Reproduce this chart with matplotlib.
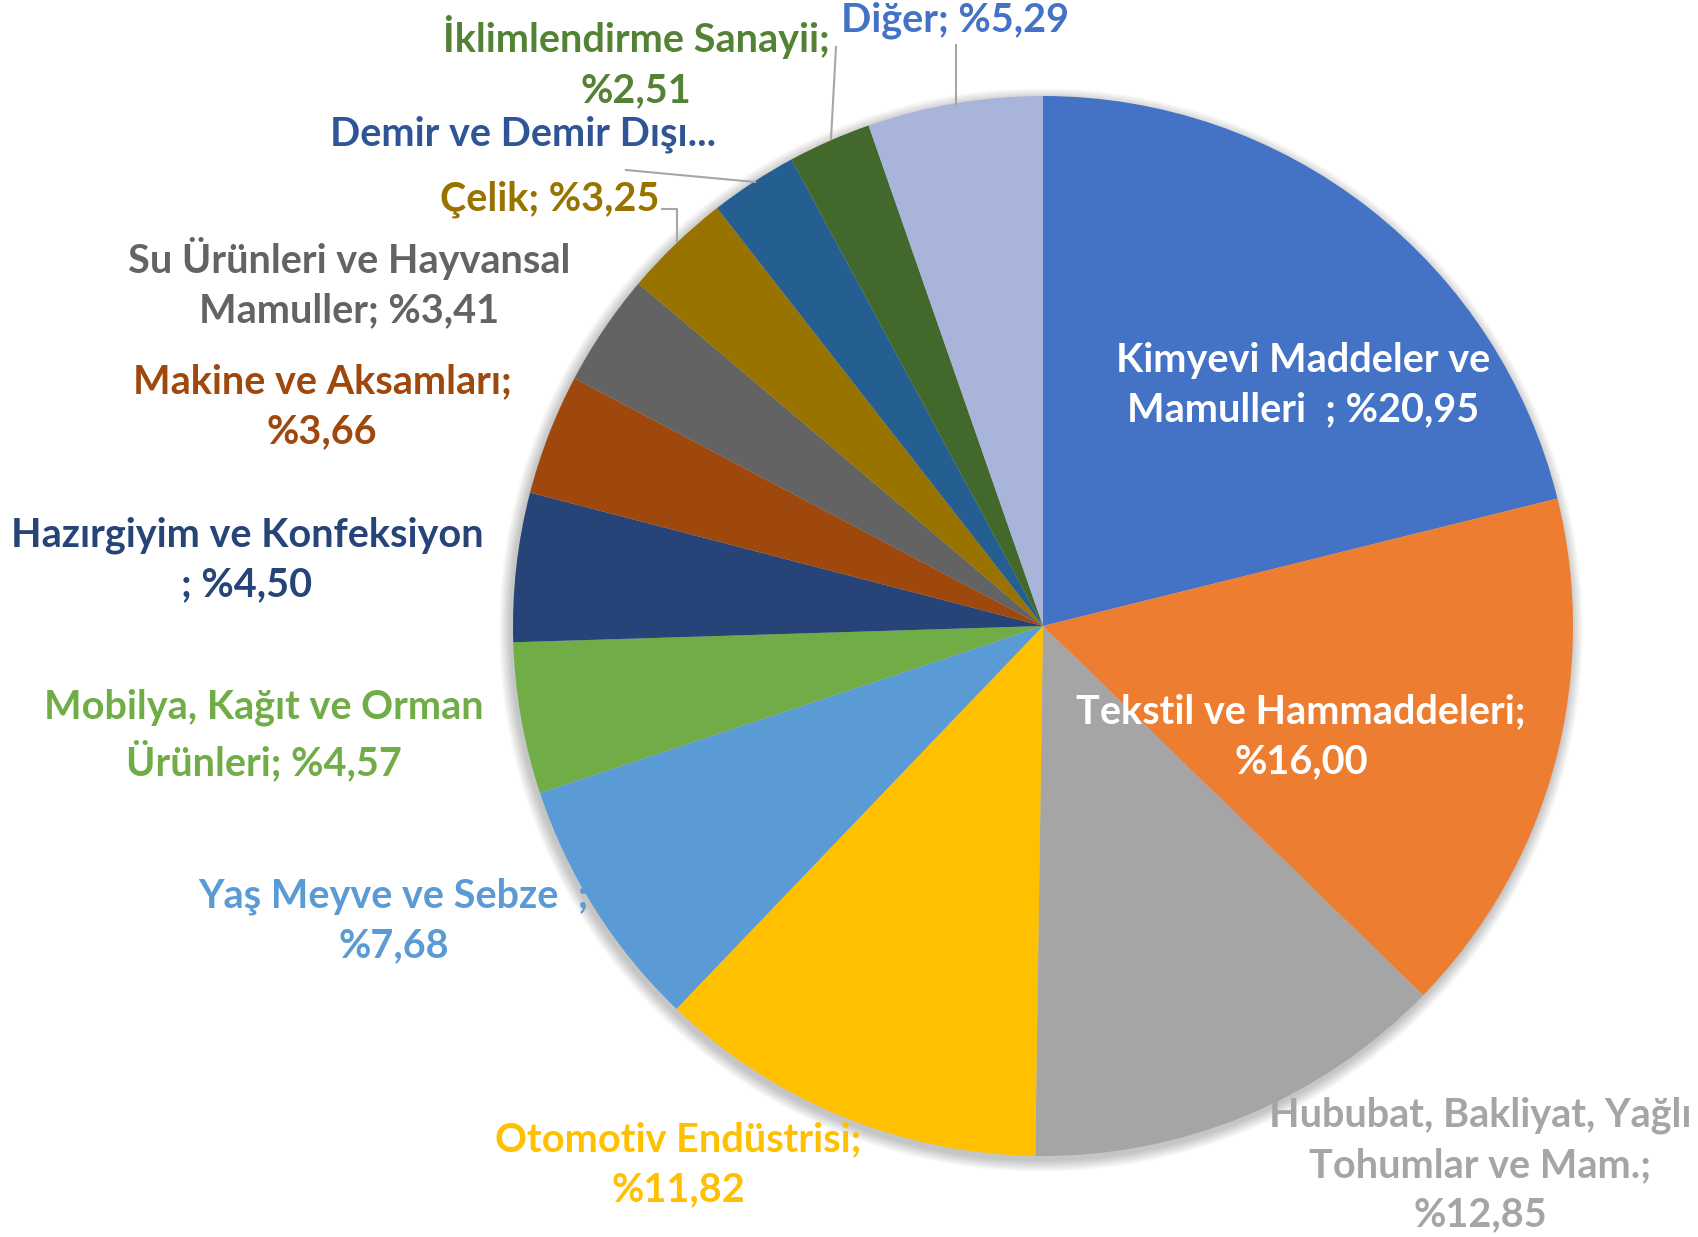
import matplotlib
matplotlib.use("Agg")
import matplotlib.pyplot as plt
from matplotlib.patches import Circle

W, H = 1699, 1237

categories = [
    "Kimyevi Maddeler ve\nMamulleri  ; ",
    "Tekstil ve Hammaddeleri;\n",
    "Hububat, Bakliyat, Yağlı\nTohumlar ve Mam.;\n",
    "Otomotiv Endüstrisi;\n",
    "Yaş Meyve ve Sebze  ;\n",
    "Mobilya, Kağıt ve Orman\nÜrünleri; ",
    "Hazırgiyim ve Konfeksiyon\n; ",
    "Makine ve Aksamları;\n",
    "Su Ürünleri ve Hayvansal\nMamuller; ",
    "Çelik; ",
    "Demir ve Demir Dışı...",
    "İklimlendirme Sanayii;\n",
    "Diğer; ",
]
values = [20.95, 16.00, 12.85, 11.82, 7.68, 4.57, 4.50, 3.66, 3.41, 3.25, 2.65, 2.51, 5.29]
show_value = [True, True, True, True, True, True, True, True, True, True, False, True, True]
slice_colors = ["#4472C4", "#ED7D31", "#A5A5A5", "#FFC000", "#5B9BD5", "#70AD47",
                "#264478", "#9E480E", "#636363", "#997300", "#255E91", "#43682B", "#A9B4DA"]
label_colors = ["#FFFFFF", "#FFFFFF", "#A5A5A5", "#FFC000", "#5B9BD5", "#70AD47",
                "#264478", "#9E480E", "#636363", "#997300", "#2F5597", "#548235", "#4472C4"]
# label centres in pixel coordinates (x, y from top)
label_pos = [(1303, 385), (1301, 737), (1480, 1165), (678, 1165), (394, 921), (264, 735),
             (247, 560), (322, 407), (349, 283), (550, 199), (523, 134), (636, 62), (955, 20)]

fig = plt.figure(figsize=(W / 100, H / 100), dpi=100)
ax = fig.add_axes([0, 0, 1, 1])

cx, cy, R = 1043, H - 626, 530

# soft shadow
for i in range(10):
    ax.add_patch(Circle((cx - 2, cy - 4), R + 1 + i * 1.2, color="#000000",
                        alpha=0.025, lw=0, zorder=0))

ax.pie(values, colors=slice_colors, startangle=90, counterclock=False,
       center=(cx, cy), radius=R, wedgeprops=dict(linewidth=0),
       frame=True)
ax.set_xlim(0, W)
ax.set_ylim(0, H)
ax.set_aspect("equal")
ax.axis("off")

for name, v, show, c, (x, y) in zip(categories, values, show_value, label_colors, label_pos):
    txt = name + ("%" + f"{v:.2f}".replace(".", ",") if show else "")
    ax.text(x, H - y, txt, ha="center", va="center", multialignment="center",
            color=c, fontsize=28.5, fontweight="bold", family="Lato", linespacing=1.42,
            zorder=5)

# leader lines
leaders = [
    [(956, 45), (956, 104)],
    [(836, 47), (831, 139)],
    [(626, 170), (755, 182)],
    [(662, 209), (677, 209), (677, 241)],
]
for pts in leaders:
    xs = [p[0] for p in pts]
    ys = [H - p[1] for p in pts]
    ax.plot(xs, ys, color="#A6A6A6", lw=1.5, zorder=4)

fig.savefig("out.png", dpi=100, facecolor="white")
